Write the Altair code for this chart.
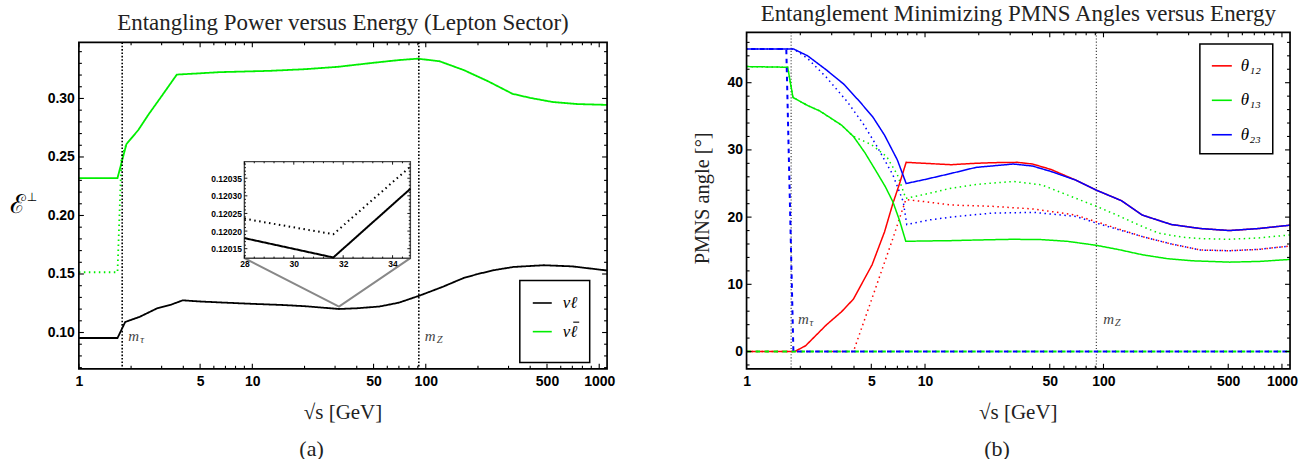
import math
import altair as alt
import pandas as pd

# ---------------- constants / tick labels ----------------
M_TAU = 1.777
M_Z = 91.19
X_MAX = 1110

LOG_MAJOR = [1, 5, 10, 50, 100, 500, 1000]
LOG_MINOR = [2, 3, 4, 6, 7, 8, 9, 20, 30, 40, 60, 70, 80, 90, 200, 300, 400, 600, 700, 800, 900]
A_Y_MAJOR = [0.10, 0.15, 0.20, 0.25, 0.30]
A_Y_MINOR = [0.07, 0.08, 0.09, 0.11, 0.12, 0.13, 0.14, 0.16, 0.17, 0.18, 0.19, 0.21, 0.22,
             0.23, 0.24, 0.26, 0.27, 0.28, 0.29, 0.31, 0.32, 0.33, 0.34]
B_Y_MAJOR = [0, 10, 20, 30, 40]
B_Y_MINOR = [-2, 2, 4, 6, 8, 12, 14, 16, 18, 22, 24, 26, 28, 32, 34, 36, 38, 42, 44, 46]
INS_X_MAJOR = [28, 30, 32, 34]
INS_X_MINOR = [28.4, 28.8, 29.2, 29.6, 30.4, 30.8, 31.2, 31.6, 32.4, 32.8, 33.2, 33.6, 34.4]
INS_Y_MAJOR = [0.12015, 0.12020, 0.12025, 0.12030, 0.12035]
INS_Y_MINOR = [0.12013, 0.12014, 0.12016, 0.12017, 0.12018, 0.12019, 0.12021, 0.12022,
               0.12023, 0.12024, 0.12026, 0.12027, 0.12028, 0.12029, 0.12031, 0.12032,
               0.12033, 0.12034, 0.12036, 0.12037, 0.12038, 0.12039]

# ---------------- panel (a) data ----------------
A_NL_X = [1, 1.67, 1.85, 2.24, 2.81, 3.4, 3.97, 5, 7, 10, 15, 20, 31.6, 40, 54, 70, 92,
          125, 166, 200, 245, 320, 480, 700, 1110]
A_NL_Y = [0.0953, 0.0953, 0.109, 0.1134, 0.1205, 0.1238, 0.1275, 0.1265, 0.1255, 0.1245,
          0.1235, 0.1225, 0.1201, 0.1207, 0.1222, 0.1255, 0.1315, 0.139, 0.1467, 0.1500,
          0.1532, 0.1560, 0.1575, 0.1565, 0.1530]
A_NLB_X = [1, 1.67, 1.88, 2.2, 2.51, 3.0, 3.67, 5, 6.5, 10, 12.6, 20, 31, 50, 70, 90, 120,
           166, 230, 316, 400, 537, 750, 1110]
A_NLB_Y = [0.232, 0.232, 0.261, 0.273, 0.2859, 0.302, 0.3204, 0.3215, 0.3225, 0.3232, 0.3236,
           0.3250, 0.3270, 0.3305, 0.3328, 0.3340, 0.3318, 0.3242, 0.3145, 0.3040, 0.3005,
           0.2970, 0.2952, 0.2945]
A_NLB_DOT_X = [1, 1.67, 1.76, 1.88]
A_NLB_DOT_Y = [0.1515, 0.1515, 0.250, 0.261]

INS_X = [28, 31.6, 34.72]
INS_SOLID = [0.12018, 0.120125, 0.12032]
INS_DOT = [0.120235, 0.120191, 0.120383]
INSET_BOX_X = [9.0, 81.5]
INSET_BOX_Y = [0.1635, 0.246]
APEX = [31.6, 0.1222]

# ---------------- panel (b) data ----------------
B_X_23 = [1, 1.84, 2.2, 2.8, 3.5, 4.3, 5.1, 5.93, 7.0, 7.84, 10, 14, 19.3, 31.3, 40, 50.7,
          70, 91.4, 126, 165, 240, 349, 508, 741, 1110]
B_Y_23 = [45, 45, 44.0, 41.9, 39.8, 37.2, 34.9, 32.2, 28.5, 25.0, 25.6, 26.5, 27.4, 27.9,
          27.6, 26.8, 25.5, 24.0, 22.45, 20.3, 18.9, 18.3, 18.0, 18.3, 18.8]
B_X_12 = [1, 1.86, 2.14, 2.8, 3.4, 3.97, 5.05, 5.93, 6.6, 7.2, 7.84, 10, 14, 19, 23.9, 33,
          40, 50.7, 70, 91.4, 126, 165, 240, 349, 508, 741, 1110]
B_Y_12 = [0, 0, 0.85, 3.96, 5.9, 7.8, 12.9, 17.8, 22.0, 25.0, 28.15, 28.0, 27.8, 28.0, 28.1,
          28.15, 27.9, 27.1, 25.5, 24.0, 22.45, 20.3, 18.9, 18.3, 18.0, 18.3, 18.8]
B_X_13 = [1, 1.70, 1.82, 2.2, 2.57, 3.4, 3.97, 4.6, 5.33, 6.0, 6.6, 7.2, 7.8, 10, 14, 20, 31,
          45, 62.7, 91.4, 120, 165, 230, 314, 508, 741, 1110]
B_Y_13 = [42.4, 42.3, 37.8, 36.6, 35.8, 33.7, 32.0, 29.6, 26.8, 24.5, 22.3, 19.5, 16.4, 16.45,
          16.5, 16.6, 16.7, 16.65, 16.4, 15.8, 15.2, 14.4, 13.8, 13.5, 13.3, 13.4, 13.7]
B_X_23D = [1, 1.84, 2.2, 2.8, 3.66, 4.5, 5.33, 6.6, 7.55, 7.9, 10.7, 15, 23.9, 40.9, 70, 91.4,
           165, 240, 349, 508, 741, 1110]
B_Y_23D = [45, 45, 43.6, 40.8, 37.2, 33.9, 30.7, 26.3, 22.3, 18.9, 19.6, 20.1, 20.6, 20.7,
           20.1, 19.1, 17.1, 16.0, 15.1, 15.0, 15.2, 15.7]
B_X_12D = [1, 3.97, 5.0, 6.6, 7.8, 10, 14, 23.9, 40.9, 70, 91.4, 165, 240, 349, 508, 741, 1110]
B_Y_12D = [0, 0, 7.6, 16.8, 22.6, 22.3, 21.8, 21.6, 21.2, 20.3, 19.3, 17.1, 16.0, 15.1, 15.0,
           15.2, 15.7]
B_X_13D = [1, 1.70, 1.82, 2.2, 2.57, 3.4, 3.97, 5.0, 6.1, 7.0, 7.8, 10, 14, 20, 31.3, 45, 70,
           91.4, 119, 165, 205, 280, 349, 508, 741, 1110]
B_Y_13D = [42.4, 42.3, 37.8, 36.6, 35.8, 33.7, 32.0, 30.8, 29.0, 26.3, 22.8, 23.4, 24.3, 24.9,
           25.3, 24.8, 22.8, 21.6, 20.3, 18.6, 17.6, 17.0, 16.8, 16.7, 16.9, 17.35]
B_DASH_G_X = [1, 1110]
B_DASH_G_Y = [0, 0]
B_DASH_B_X = [1, 1.67, 1.83, 1110]
B_DASH_B_Y = [45, 45, 0, 0]

# ---------------- layout / style ----------------
W_A, W_B, H = 529, 544.3, 337
TOP_A = 10
SPACING = 139.7
SERIF = "Liberation Serif"
SANS = "Liberation Sans"
GREEN = "#00ee00"
ONE = pd.DataFrame({"a": [0]})

# legend (a) geometry, used to place the bar over the second label
LEG_A_X, LEG_A_Y, LEG_PAD, LEG_A_ROWPAD, LEG_FS = 441.6, 248.6, 12, 9.7, 17

xs_a = alt.Scale(type="log", domain=[1, X_MAX], nice=False)
ys_a = alt.Scale(domain=[0.069, 0.348], range=[H, TOP_A], nice=False, zero=False)
xs_b = alt.Scale(type="log", domain=[1, X_MAX], nice=False)
ys_b = alt.Scale(domain=[-2.57, 47.5], range=[H, 0], nice=False, zero=False)


def px_a(x):
    return math.log10(x) / math.log10(X_MAX) * W_A


def py_a(v):
    return TOP_A + (0.348 - v) / (0.348 - 0.069) * (H - TOP_A)


IX0, IX1 = px_a(INSET_BOX_X[0]), px_a(INSET_BOX_X[1])
IY_TOP, IY_BOT = py_a(INSET_BOX_Y[1]), py_a(INSET_BOX_Y[0])
xs_i = alt.Scale(domain=[28, 34.72], range=[IX0, IX1], nice=False, zero=False)
ys_i = alt.Scale(domain=[0.120123, 0.120397], range=[IY_BOT, IY_TOP], nice=False, zero=False)


def lab_axis(**kw):
    base = dict(ticks=False, tickSize=0, domain=False, grid=False, title=None,
                labelFont=SANS, labelFontWeight="bold", labelColor="black",
                labelFlush=False, labelOverlap=False)
    base.update(kw)
    return alt.Axis(**base)


AX_A_X = lab_axis(orient="bottom", values=LOG_MAJOR, format="d", labelFontSize=14, labelPadding=6)
AX_A_Y = lab_axis(orient="left", values=A_Y_MAJOR, format=".2f", labelFontSize=14, labelPadding=4.5)
AX_B_X = lab_axis(orient="bottom", values=LOG_MAJOR, format="d", labelFontSize=14, labelPadding=6)
AX_B_Y = lab_axis(orient="left", values=B_Y_MAJOR, format="d", labelFontSize=14, labelPadding=4)
AX_I_X = lab_axis(orient="bottom", offset=-(H - IY_BOT), values=INS_X_MAJOR, format="d",
                  labelFontSize=8.5, labelPadding=1.5)
AX_I_Y = lab_axis(orient="left", offset=-IX0, values=INS_Y_MAJOR, format=".5f",
                  labelFontSize=8.5, labelPadding=3)


def hrules(vals, scale, axis, y0, y1, sw=1.1, color="black"):
    return alt.Chart(pd.DataFrame({"v": vals})).mark_rule(color=color, strokeWidth=sw).encode(
        x=alt.X("v:Q", scale=scale, axis=axis), y=alt.value(y0), y2=alt.value(y1))


def vrules(vals, scale, axis, x0, x1, sw=1.1, color="black"):
    return alt.Chart(pd.DataFrame({"v": vals})).mark_rule(color=color, strokeWidth=sw).encode(
        y=alt.Y("v:Q", scale=scale, axis=axis), x=alt.value(x0), x2=alt.value(x1))


def frame_ticks(xsc, xax, ysc, yax, xmaj, xmin, ymaj, ymin, left, right, top, bottom,
                lmaj, lmin, sw=1.1):
    return [
        hrules(xmaj, xsc, xax, bottom, bottom - lmaj, sw),
        hrules(xmin, xsc, xax, bottom, bottom - lmin, sw),
        hrules(xmaj, xsc, xax, top, top + lmaj, sw),
        hrules(xmin, xsc, xax, top, top + lmin, sw),
        vrules(ymaj, ysc, yax, left, left + lmaj, sw),
        vrules(ymin, ysc, yax, left, left + lmin, sw),
        vrules(ymaj, ysc, yax, right, right - lmaj, sw),
        vrules(ymin, ysc, yax, right, right - lmin, sw),
    ]


def frame_rect(x0, x1, y0, y1, color="black", sw=1.7):
    return alt.Chart(ONE).mark_rect(fillOpacity=0, stroke=color, strokeWidth=sw).encode(
        x=alt.value(x0), x2=alt.value(x1), y=alt.value(y0), y2=alt.value(y1))


def text_at(x, y, txt, size, font=SERIF, color="#222", style="normal", align="center",
            angle=0):
    kw = dict(fontSize=size, font=font, color=color, fontStyle=style, align=align,
              baseline="middle")
    if angle:
        kw["angle"] = angle
    return alt.Chart(ONE).mark_text(**kw).encode(
        x=alt.value(x), y=alt.value(y), text=alt.value(txt))


def anchor(x, y):
    return alt.Chart(ONE).mark_rule(strokeOpacity=0).encode(
        x=alt.value(x), x2=alt.value(x), y=alt.value(y), y2=alt.value(y))


def mlabels(xsc, xax, y, dx, sub_dx):
    df = pd.DataFrame({"v": [M_TAU, M_Z], "s": ["τ", "Z"]})
    m = alt.Chart(df).mark_text(font=SERIF, fontStyle="italic", fontSize=15, color="#444",
                                align="left", baseline="middle", dx=dx).encode(
        x=alt.X("v:Q", scale=xsc, axis=xax), y=alt.value(y), text=alt.value("m"))
    s = alt.Chart(df).mark_text(font=SERIF, fontStyle="italic", fontSize=10.5, color="#444",
                                align="left", baseline="middle", dx=sub_dx).encode(
        x=alt.X("v:Q", scale=xsc, axis=xax), y=alt.value(y + 3.5), text="s:N")
    return [m, s]


# ================= panel (a) =================
# second label carries a trailing space so the two entries stay distinct; its bar is drawn below
NL, NLB = "νℓ", "νℓ "
df_a = pd.concat([
    pd.DataFrame({"x": A_NL_X, "y": A_NL_Y, "p": NL, "s": "solid"}),
    pd.DataFrame({"x": A_NLB_X, "y": A_NLB_Y, "p": NLB, "s": "solid"}),
    pd.DataFrame({"x": A_NLB_DOT_X, "y": A_NLB_DOT_Y, "p": NLB, "s": "dotted"}),
])
lines_a = alt.Chart(df_a).mark_line(strokeWidth=1.8).encode(
    x=alt.X("x:Q", scale=xs_a, axis=AX_A_X),
    y=alt.Y("y:Q", scale=ys_a, axis=AX_A_Y),
    color=alt.Color("p:N", scale=alt.Scale(domain=[NL, NLB], range=["black", GREEN]),
                    legend=alt.Legend(orient="none", legendX=LEG_A_X, legendY=LEG_A_Y,
                                      title=" ", titleOrient="bottom", titleFontSize=9,
                                      titlePadding=2, rowPadding=LEG_A_ROWPAD, symbolSize=361,
                                      labelOffset=10, padding=LEG_PAD)),
    strokeDash=alt.StrokeDash("s:N", scale=alt.Scale(domain=["solid", "dotted"],
                                                      range=[[1, 0], [1.5, 3.5]]), legend=None),
)
# bar over the second legend label (ℓ̄)
bar_y = LEG_A_Y + LEG_PAD + LEG_FS / 2 + LEG_FS + LEG_A_ROWPAD - 5.5
bar_x0 = LEG_A_X + LEG_PAD + 19 + 10 + 12.5
leg_bar = alt.Chart(ONE).mark_rule(color="black", strokeWidth=1.1).encode(
    x=alt.value(bar_x0), x2=alt.value(bar_x0 + 6), y=alt.value(bar_y), y2=alt.value(bar_y))

vlines_a = alt.Chart(pd.DataFrame({"v": [M_TAU, M_Z]})).mark_rule(
    color="black", strokeWidth=1.6, strokeDash=[1.6, 1.8]).encode(
    x=alt.X("v:Q", scale=xs_a, axis=AX_A_X), y=alt.value(TOP_A), y2=alt.value(H))

inset_box = alt.Chart(pd.DataFrame({"x0": [INSET_BOX_X[0]], "x1": [INSET_BOX_X[1]],
                                    "y0": [INSET_BOX_Y[0]], "y1": [INSET_BOX_Y[1]]})).mark_rect(
    fill="white", stroke="#444", strokeWidth=1.4).encode(
    x=alt.X("x0:Q", scale=xs_a, axis=AX_A_X), x2="x1:Q",
    y=alt.Y("y0:Q", scale=ys_a, axis=AX_A_Y), y2="y1:Q")
connector = alt.Chart(pd.DataFrame({"x": [INSET_BOX_X[0], APEX[0], INSET_BOX_X[1]],
                                    "y": [INSET_BOX_Y[0], APEX[1], INSET_BOX_Y[0]],
                                    "i": [0, 1, 2]})).mark_line(
    color="#888", strokeWidth=2).encode(
    x=alt.X("x:Q", scale=xs_a, axis=AX_A_X), y=alt.Y("y:Q", scale=ys_a, axis=AX_A_Y),
    order="i:Q")

ticks_a = frame_ticks(xs_a, AX_A_X, ys_a, AX_A_Y, LOG_MAJOR, LOG_MINOR, A_Y_MAJOR, A_Y_MINOR,
                      0, W_A, TOP_A, H, 5, 3)

main_a = alt.layer(
    connector, inset_box, lines_a, vlines_a,
    *mlabels(xs_a, AX_A_X, 304.3, 6, 18),
    frame_rect(0, W_A, TOP_A, H),
    *ticks_a,
    leg_bar,
    text_at(W_A / 2, -9.5, "Entangling Power versus Energy (Lepton Sector)", 23),
    text_at(W_A / 2, 381, "√s [GeV]", 21),
    text_at(233, 417.3, "(a)", 22),
    text_at(-60.5, 173, "ℰ", 26, font="DejaVu Serif", color="black"),
    text_at(-47, 165, "⊥", 12, font="DejaVu Sans", color="black"),
    anchor(-78, -30.7),
)

df_i = pd.concat([
    pd.DataFrame({"x": INS_X, "y": INS_SOLID, "s": "solid"}),
    pd.DataFrame({"x": INS_X, "y": INS_DOT, "s": "dotted"}),
])
lines_i = alt.Chart(df_i).mark_line(color="black", strokeWidth=2).encode(
    x=alt.X("x:Q", scale=xs_i, axis=AX_I_X),
    y=alt.Y("y:Q", scale=ys_i, axis=AX_I_Y),
    strokeDash=alt.StrokeDash("s:N", scale=alt.Scale(domain=["solid", "dotted"],
                                                      range=[[1, 0], [1.3, 2.4]]), legend=None),
)
ticks_i = frame_ticks(xs_i, AX_I_X, ys_i, AX_I_Y, INS_X_MAJOR, INS_X_MINOR, INS_Y_MAJOR,
                      INS_Y_MINOR, IX0, IX1, IY_TOP, IY_BOT, 3, 1.6, sw=0.9)
inset = alt.layer(lines_i, *ticks_i)

left = alt.layer(main_a, inset).resolve_scale(x="independent", y="independent").properties(
    width=W_A, height=H)

# ================= panel (b) =================
T12, T13, T23 = "θ₁₂", "θ₁₃", "θ₂₃"
df_b = pd.concat([
    pd.DataFrame({"x": B_X_12D, "y": B_Y_12D, "a": T12, "s": "dotted"}),
    pd.DataFrame({"x": B_X_13D, "y": B_Y_13D, "a": T13, "s": "dotted"}),
    pd.DataFrame({"x": B_X_23D, "y": B_Y_23D, "a": T23, "s": "dotted"}),
    pd.DataFrame({"x": B_X_12, "y": B_Y_12, "a": T12, "s": "solid"}),
    pd.DataFrame({"x": B_X_13, "y": B_Y_13, "a": T13, "s": "solid"}),
    pd.DataFrame({"x": B_X_23, "y": B_Y_23, "a": T23, "s": "solid"}),
])
lines_b = alt.Chart(df_b).mark_line(strokeWidth=1.5).encode(
    x=alt.X("x:Q", scale=xs_b, axis=AX_B_X),
    y=alt.Y("y:Q", scale=ys_b, axis=AX_B_Y),
    color=alt.Color("a:N", scale=alt.Scale(domain=[T12, T13, T23],
                                           range=["#ff0000", GREEN, "#0000ff"]),
                    legend=alt.Legend(orient="none", legendX=454, legendY=11.6, title=None,
                                      rowPadding=15.5, symbolSize=400, labelOffset=8,
                                      padding=11, fillColor="white")),
    strokeDash=alt.StrokeDash("s:N", scale=alt.Scale(domain=["solid", "dotted"],
                                                      range=[[1, 0], [1.5, 3.5]]), legend=None),
)
dash_g = alt.Chart(pd.DataFrame({"x": B_DASH_G_X, "y": B_DASH_G_Y})).mark_line(
    color=GREEN, strokeWidth=2, strokeDash=[4.5, 4.5]).encode(
    x=alt.X("x:Q", scale=xs_b, axis=AX_B_X), y=alt.Y("y:Q", scale=ys_b, axis=AX_B_Y))
dash_b = alt.Chart(pd.DataFrame({"x": B_DASH_B_X, "y": B_DASH_B_Y})).mark_line(
    color="#0000ff", strokeWidth=2, strokeDash=[4.5, 4.5], strokeDashOffset=4.5).encode(
    x=alt.X("x:Q", scale=xs_b, axis=AX_B_X), y=alt.Y("y:Q", scale=ys_b, axis=AX_B_Y))
vlines_b = alt.Chart(pd.DataFrame({"v": [M_TAU, M_Z]})).mark_rule(
    color="#333", strokeWidth=1.1, strokeDash=[1.1, 2.0]).encode(
    x=alt.X("v:Q", scale=xs_b, axis=AX_B_X), y=alt.value(0), y2=alt.value(H))

ticks_b = frame_ticks(xs_b, AX_B_X, ys_b, AX_B_Y, LOG_MAJOR, LOG_MINOR, B_Y_MAJOR, B_Y_MINOR,
                      0, W_B, 0, H, 5, 3)

right = alt.layer(
    vlines_b, lines_b, dash_g, dash_b,
    *mlabels(xs_b, AX_B_X, 287.6, 7, 18.5),
    frame_rect(0, W_B, 0, H),
    *ticks_b,
    text_at(W_B / 2, -18, "Entanglement Minimizing PMNS Angles versus Energy", 23),
    text_at(W_B / 2, 381, "√s [GeV]", 21),
    text_at(250.8, 417.3, "(b)", 22),
    text_at(-44, 166.3, "PMNS angle [°]", 20.5, angle=270),
    anchor(1312 - 746.7, 459 - 30.7),
).properties(width=W_B, height=H)

chart = alt.hconcat(left, right, spacing=SPACING, bounds="flush").resolve_scale(
    color="independent", strokeDash="independent").resolve_legend(
    color="independent", strokeDash="independent").properties(
    padding=0, background="white").configure_view(stroke="transparent").configure_legend(
    strokeColor="black", strokeWidth=1.5,
    symbolType="stroke", symbolStrokeWidth=1.6, labelFont=SERIF, labelFontStyle="italic",
    labelFontSize=LEG_FS, labelColor="black")

chart.save("out.html", embed_options={"renderer": "svg", "actions": False})
